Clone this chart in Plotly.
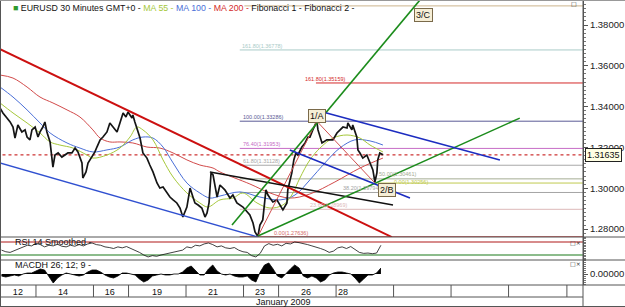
import numpy as np
import plotly.graph_objects as go

# ---------------- data (time in trading days since Jan 12 00:00, weekends compressed) ----------------
price_t = [0.75,0.85,0.99,1.10,1.20,1.27,1.37,1.51,1.62,1.69,1.79,1.86,1.97,2.07,2.14,2.24,2.31,2.38,2.49,2.59,
           2.66,2.77,2.90,3.01,3.11,3.25,3.36,3.46,3.60,3.63,3.74,3.81,3.95,4.05,4.12,4.23,4.33,4.47,4.57,4.68,
           4.82,4.92,5.03,5.13,5.20,5.34,5.37,5.44,5.51,5.62,5.72,5.86,5.96,6.07,6.21,6.31,6.42,6.56,6.66,6.77,
           6.90,7.01,7.11,7.25,7.36,7.46,7.53,7.64,7.77,7.88,7.95,8.02,8.09,8.16,8.30,8.40,8.57,8.75,8.85,8.99,
           9.20,9.44,9.55,9.62,9.72,9.79,9.89,10.00,10.07,10.14,10.24,10.38,10.49,10.59,10.73,10.76,10.90,10.97,11.04,11.11,
           11.25,11.36,11.46,11.53,11.63,11.77,11.81,11.95,12.12,12.33,12.47,12.57,12.68,12.82,12.85,12.99,13.02,13.16,13.20,13.27,
           13.37,13.51,13.62,13.72,13.79,13.86,13.89,13.96,14.07]
price_close = [1.3393,1.3369,1.3344,1.3325,1.3300,1.3246,1.3310,1.3276,1.3286,1.3251,1.3237,1.3286,1.3300,1.3251,1.3276,1.3300,1.3325,1.3276,1.3227,1.3104,
               1.3163,1.3173,1.3153,1.3163,1.3173,1.3173,1.3197,1.3178,1.3124,1.3050,1.3080,1.3124,1.3153,1.3178,1.3202,1.3237,1.3251,1.3276,1.3320,1.3300,
               1.3276,1.3320,1.3369,1.3349,1.3374,1.3344,1.3359,1.3325,1.3295,1.3246,1.3173,1.3148,1.3114,1.3080,1.3026,1.3001,1.3006,1.2977,1.2957,1.2943,
               1.2928,1.2903,1.2859,1.2908,1.3001,1.2957,1.2928,1.2918,1.2903,1.2859,1.2879,1.2928,1.3075,1.3065,1.2957,1.3016,1.2992,1.2952,1.2967,1.2928,
               1.2908,1.2869,1.2830,1.2786,1.2764,1.2820,1.2845,1.2992,1.2967,1.2952,1.2933,1.2943,1.2918,1.2894,1.2928,1.2992,1.3075,1.3139,1.3173,1.3163,
               1.3202,1.3222,1.3251,1.3251,1.3286,1.3329,1.3286,1.3222,1.3237,1.3237,1.3271,1.3286,1.3300,1.3295,1.3320,1.3286,1.3310,1.3251,1.3188,1.3173,
               1.3148,1.3163,1.3124,1.3090,1.3031,1.3075,1.3139,1.3173,1.3164]
last_price = 1.31635

ma55_t = [0.75,1.20,1.69,2.14,2.49,2.83,3.29,3.77,3.98,4.47,4.92,5.27,5.51,5.72,6.07,6.42,6.77,7.25,7.70,7.98,
          8.40,8.85,9.20,9.69,10.14,10.59,10.90,11.18,11.53,11.88,12.33,12.82,13.27,13.62,14.07]
ma55 = [1.3418,1.3369,1.3320,1.3271,1.3227,1.3212,1.3197,1.3163,1.3148,1.3163,1.3197,1.3251,1.3300,1.3286,1.3237,1.3139,1.3055,1.2977,1.2928,1.2908,
        1.2943,1.2952,1.2977,1.2928,1.2903,1.2918,1.2967,1.3050,1.3139,1.3197,1.3246,1.3261,1.3246,1.3212,1.3178]
ma100_t = [0.75,1.20,1.69,2.14,2.49,3.08,3.53,3.98,4.47,4.92,5.37,5.72,6.07,6.42,6.77,7.25,7.70,8.05,8.40,9.10,
           9.79,10.49,11.01,11.53,12.05,12.57,13.09,13.62,14.07]
ma100 = [1.3496,1.3447,1.3384,1.3320,1.3271,1.3222,1.3197,1.3178,1.3188,1.3202,1.3237,1.3251,1.3246,1.3202,1.3124,1.3026,1.2977,1.2952,1.2962,1.2982,
         1.2957,1.2943,1.2967,1.3041,1.3124,1.3197,1.3237,1.3232,1.3212]
ma200_t = [0.75,1.20,1.69,2.14,2.59,3.08,3.53,3.98,4.23,4.57,4.92,5.37,5.86,6.31,6.77,7.25,7.70,8.16,8.40,9.44,
           10.14,10.83,11.53,12.40,13.27,14.07]
ma200 = [1.3555,1.3540,1.3496,1.3447,1.3418,1.3384,1.3349,1.3286,1.3246,1.3227,1.3227,1.3222,1.3202,1.3197,1.3173,1.3139,1.3114,1.3099,1.3080,1.3021,
         1.2977,1.2952,1.2972,1.3031,1.3099,1.3148]

# indicator panels sampled every 0.15 day from t = 0.8
ind_t = list(np.round(0.8 + 0.15 * np.arange(89), 2))
rsi = [45,40,38,44,50,55,60,58,66,62,55,60,58,63,57,55,60,57,62,58,
       64,67,62,60,55,53,50,55,52,56,50,45,38,30,24,28,26,30,33,35,
       38,42,45,55,52,60,58,64,67,62,55,58,52,50,53,45,40,38,28,24,
       35,58,65,60,63,58,66,64,70,68,66,62,58,55,50,45,38,42,52,55,
       50,56,48,38,35,36,34,36,60]
macdh = [-2,-3,-2,-1,-2,0,1,1,3,5,4,-3,-9,-4,-1,1,0,-1,-2,-1,
         2,4,4,2,-1,-3,-4,-2,1,1,0,-1,-5,-8,-6,-2,-1,0,-1,-1,
         0,0,2,6,8,3,-1,-1,5,9,3,0,-1,0,-2,-3,-3,-2,-6,-8,
         2,9,11,5,-2,-4,1,5,9,6,-2,-4,-2,-4,-8,-6,-1,1,2,2,
         1,0,-4,-9,-5,-1,-1,1,6]
macdh = [v * 1e-4 for v in macdh]

# drawn trend lines: (t0, p0, t1, p1)
red_channel = (0.75, 1.3682, 14.38, 1.2761)
blue_channel = (0.75, 1.3124, 9.72, 1.2761)
black_line = (8.05, 1.3080, 14.42, 1.2918)
green_a = (8.82, 1.2820, 15.36, 1.3923)
green_b = (9.72, 1.2766, 18.83, 1.3344)
blue_upper = (11.98, 1.3374, 18.14, 1.3139)
blue_lower = (10.83, 1.3188, 15.01, 1.2952)
fib1_leg = (9.72, 1.27636, 11.77, 1.33286)
fib2_leg = (11.77, 1.33286, 13.79, 1.30256)

# Fibonacci levels: (label, price, start t, colour, label t, label shift px)
fib_levels = [
    ("", 1.38936, 9.25, "#cdb48c", None, 0),
    ("161.80(1.36778)", 1.36778, 9.09, "#a9cbc8", 9.09, -1),
    ("161.80(1.35159)", 1.35159, 11.74, "#d42a2a", 11.29, -1),
    ("100.00(1.33286)", 1.33286, 9.09, "#5a5a96", 9.13, -1),
    ("76.40(1.31953)", 1.31953, 9.09, "#c66cc6", 9.13, -1),
    ("61.80(1.31128)", 1.31128, 9.09, "#a8a8a8", 9.13, -1),
    ("50.00(1.30461)", 1.30461, 9.09, "#a4ac94", 13.86, 0),
    ("0.00(1.30256)", 1.30256, 13.79, "#c0ca50", 14.38, -4),
    ("38.20(1.29794)", 1.29794, 9.09, "#a4a4a4", 12.62, -1),
    ("23.60(1.28969)", 1.28969, 9.09, "#dcb8b8", 11.46, -1),
    ("0.00(1.27636)", 1.27636, 9.09, "#d46a6a", 10.21, -1),
]

wave_labels = [("1/A", 11.76, 1.3352), ("2/B", 14.21, 1.2991), ("3/C", 15.48, 1.3847)]

day_labels = ["12", "14", "16", "19", "21", "23", "26", "28"]
day_label_t = [1.37, 2.94, 4.57, 6.21, 8.16, 9.79, 11.39, 12.68]
day_bounds = [2.0, 4.0, 5.22, 7.22, 9.22, 10.44, 12.44, 14.44, 16.44, 18.44, 20.47]

price_ticks = [1.28, 1.30, 1.32, 1.34, 1.36, 1.38]

# ---------------- figure ----------------
W, H = 625, 307
def py(px):  # pixel row -> paper fraction
    return (H - px) / H

FONT = "Arial, Liberation Sans, sans-serif"
fig = go.Figure()

# Fibonacci levels
for lab, p, t0, col, lt, sh in fib_levels:
    fig.add_trace(go.Scatter(x=[t0, 22], y=[p, p], mode="lines",
                             line=dict(color=col, width=1), hoverinfo="skip", showlegend=False))

# current price dotted line
fig.add_trace(go.Scatter(x=[0, 22], y=[last_price, last_price], mode="lines",
                         line=dict(color="#c00000", width=1, dash="dot"), showlegend=False))

# moving averages
fig.add_trace(go.Scatter(x=ma200_t, y=ma200, mode="lines", line=dict(color="#d24a4a", width=1, shape="spline"), showlegend=False))
fig.add_trace(go.Scatter(x=ma100_t, y=ma100, mode="lines", line=dict(color="#4a6fd8", width=1, shape="spline"), showlegend=False))
fig.add_trace(go.Scatter(x=ma55_t, y=ma55, mode="lines", line=dict(color="#a6c83a", width=1, shape="spline"), showlegend=False))

# price
fig.add_trace(go.Scatter(x=price_t, y=price_close, mode="lines", line=dict(color="#151515", width=1.7), showlegend=False))

def seg(s, color, width):
    fig.add_trace(go.Scatter(x=[s[0], s[2]], y=[s[1], s[3]], mode="lines",
                             line=dict(color=color, width=width), showlegend=False))

seg(fib1_leg, "#d05050", 1)
seg(fib2_leg, "#d05050", 1)
seg(red_channel, "#cc1010", 2)
seg(blue_channel, "#3050d0", 1.3)
seg(black_line, "#111111", 1.5)
seg(green_a, "#1c8c1c", 1.6)
seg(green_b, "#1c8c1c", 1.5)
seg(blue_upper, "#1c2cc0", 1.6)
seg(blue_lower, "#1c2cc0", 1.6)

# RSI
fig.add_trace(go.Scatter(x=[0, 22], y=[70, 70], mode="lines", line=dict(color="#b01818", width=1.2), xaxis="x", yaxis="y2", showlegend=False))
fig.add_trace(go.Scatter(x=[0, 22], y=[30, 30], mode="lines", line=dict(color="#1a7a1a", width=1.2), xaxis="x", yaxis="y2", showlegend=False))
fig.add_trace(go.Scatter(x=ind_t, y=rsi, mode="lines", line=dict(color="#111111", width=0.8), xaxis="x", yaxis="y2", showlegend=False))

# MACD histogram
fig.add_trace(go.Scatter(x=ind_t, y=macdh, mode="lines", fill="tozeroy", fillcolor="#000000",
                         line=dict(color="#000000", width=0.8), xaxis="x", yaxis="y3", showlegend=False))

annotations = []
for lab, p, t0, col, lt, sh in fib_levels:
    if lab:
        annotations.append(dict(x=lt, y=p, xref="x", yref="y", text=lab, showarrow=False,
                                xanchor="left", yanchor="bottom", yshift=sh,
                                font=dict(family=FONT, size=5.5, color=col)))
for lab, t, p in wave_labels:
    annotations.append(dict(x=t, y=p, xref="x", yref="y", text=lab, showarrow=False,
                            bgcolor="#f6eed6", bordercolor="#7a6a4a", borderwidth=1, borderpad=1,
                            font=dict(family=FONT, size=9, color="#111")))

header = ("<span style='color:#2e9a2e'>■</span> EURUSD 30 Minutes GMT+0 - "
          "<span style='color:#a6c83a'>MA 55 -</span> <span style='color:#4a6fd8'>MA 100 -</span> "
          "<span style='color:#d42a2a'>MA 200 -</span> Fibonacci 1 - Fibonacci 2 -")
annotations += [
    dict(x=11 / W, y=py(8), xref="paper", yref="paper", text=header, showarrow=False,
         xanchor="left", yanchor="middle", font=dict(family=FONT, size=8.8, color="#111")),
    dict(x=13 / W, y=py(242), xref="paper", yref="paper", text="RSI 14 Smoothed -", showarrow=False,
         xanchor="left", yanchor="middle", font=dict(family=FONT, size=9, color="#111")),
    dict(x=13 / W, y=py(265), xref="paper", yref="paper", text="MACDH 26; 12; 9 -", showarrow=False,
         xanchor="left", yanchor="middle", font=dict(family=FONT, size=9, color="#111")),
    dict(x=283 / W, y=py(302), xref="paper", yref="paper", text="January 2009", showarrow=False,
         xanchor="center", yanchor="middle", font=dict(family=FONT, size=9, color="#111")),
    dict(x=574 / W, y=py(3), xref="paper", yref="paper", text="□", showarrow=False,
         xanchor="center", yanchor="middle", font=dict(family="DejaVu Sans", size=6, color="#333")),
    dict(x=575 / W, y=py(242), xref="paper", yref="paper", text="□×", showarrow=False,
         xanchor="center", yanchor="middle", font=dict(family="DejaVu Sans", size=6, color="#333")),
    dict(x=575 / W, y=py(263), xref="paper", yref="paper", text="□×", showarrow=False,
         xanchor="center", yanchor="middle", font=dict(family="DejaVu Sans", size=6, color="#333")),
    dict(x=585 / W, y=last_price, xref="paper", yref="y", text="1.31635", showarrow=False,
         xanchor="left", yanchor="middle", bgcolor="#ffffe4", bordercolor="#222", borderwidth=1, borderpad=1,
         font=dict(family=FONT, size=9, color="#111")),
]

XR = 583 / W
shapes = []
for px in (237, 260, 285):
    shapes.append(dict(type="line", xref="paper", yref="paper", x0=0, x1=1, y0=py(px), y1=py(px),
                       line=dict(color="#555", width=1)))
shapes.append(dict(type="line", xref="paper", yref="paper", x0=0, x1=XR, y0=py(297), y1=py(297), line=dict(color="#555", width=1)))
shapes.append(dict(type="line", xref="paper", yref="paper", x0=0, x1=1, y0=py(306.5), y1=py(306.5), line=dict(color="#555", width=1)))
shapes.append(dict(type="line", xref="paper", yref="paper", x0=0.5 / W, x1=0.5 / W, y0=0, y1=1, line=dict(color="#555", width=1)))
shapes.append(dict(type="line", xref="paper", yref="paper", x0=XR, x1=XR, y0=0, y1=1, line=dict(color="#555", width=1)))
shapes.append(dict(type="line", xref="paper", yref="paper", x0=0, x1=1, y0=py(0.5), y1=py(0.5), line=dict(color="#999", width=1)))
for b in day_bounds:
    shapes.append(dict(type="line", xref="x", yref="paper", x0=b, x1=b, y0=py(297), y1=py(285),
                       line=dict(color="#555", width=1)))

fig.update_layout(
    width=W, height=H, margin=dict(l=0, r=0, t=0, b=0),
    paper_bgcolor="white", plot_bgcolor="white", showlegend=False,
    font=dict(family=FONT, size=9, color="#222"),
    xaxis=dict(domain=[1 / W, XR], range=[0.783, 21.03], anchor="y3", showgrid=False, zeroline=False,
               showline=False, tickvals=day_label_t, ticktext=day_labels, ticks="",
               tickfont=dict(family=FONT, size=9, color="#111"), automargin=False, fixedrange=True),
    yaxis=dict(domain=[py(237), 1], range=[1.27612, 1.39225], side="right", anchor="x", showgrid=False,
               zeroline=False, showline=True, linecolor="#555", tickvals=price_ticks,
               ticktext=[f"{v:.5f}" for v in price_ticks], ticks="outside", ticklen=4, tickcolor="#555",
               minor=dict(dtick=0.002, ticks="outside", ticklen=2, tickcolor="#777"),
               tickfont=dict(family=FONT, size=9.5, color="#222"), automargin=False),
    yaxis2=dict(domain=[py(260), py(237)], range=[14.6, 85.4], side="right", anchor="x", showgrid=False,
                zeroline=False, showline=True, linecolor="#555", showticklabels=False,
                ticks="outside", ticklen=2, dtick=5, tickcolor="#777", automargin=False),
    yaxis3=dict(domain=[py(285), py(260)], range=[-0.0011, 0.0014], side="right", anchor="x", showgrid=False,
                zeroline=False, showline=True, linecolor="#555", tickvals=[0], ticktext=["0.00000"],
                ticks="outside", ticklen=4, tickcolor="#555",
                minor=dict(dtick=0.0002, ticks="outside", ticklen=2, tickcolor="#777"),
                tickfont=dict(family=FONT, size=9.5, color="#222"), automargin=False),
    annotations=annotations, shapes=shapes,
)

fig.write_html("out.html")
